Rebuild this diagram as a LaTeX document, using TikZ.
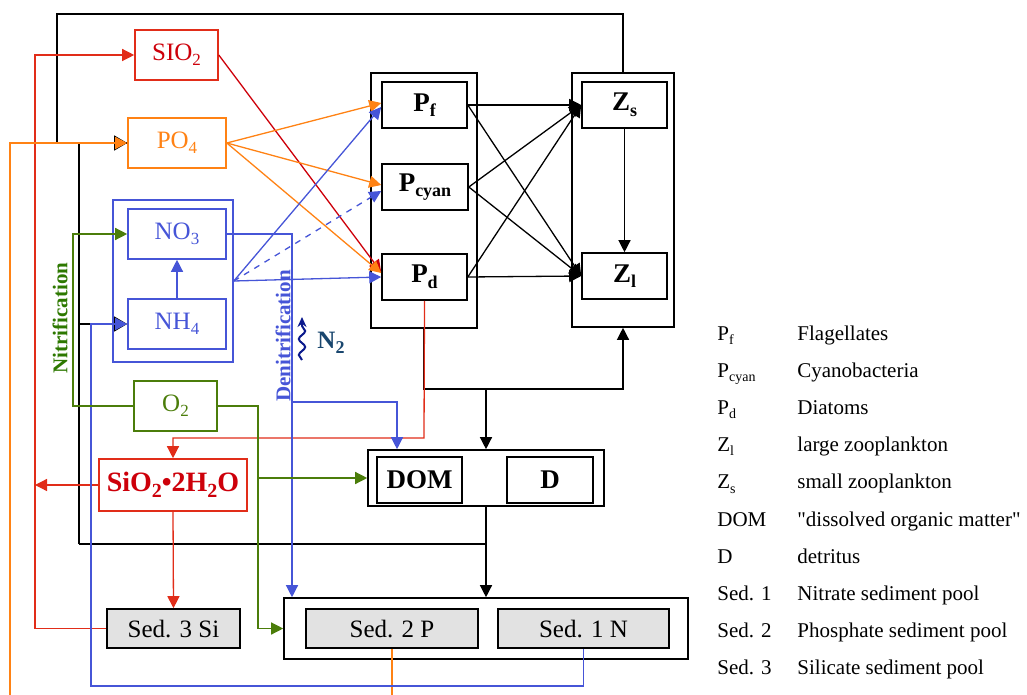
\documentclass[tikz,border=0pt]{standalone}
\usepackage{fontspec}
\setmainfont{Liberation Serif}
\usetikzlibrary{arrows.meta, positioning, calc, decorations.pathmorphing}
\definecolor{silred}{RGB}{225,45,25}
\definecolor{sidark}{RGB}{205,0,10}
\definecolor{phosorange}{RGB}{255,130,20}
\definecolor{nitblue}{RGB}{70,85,215}
\definecolor{oxgreen}{RGB}{75,125,10}
\definecolor{nitgreen}{RGB}{45,120,0}
\definecolor{ntwoteal}{RGB}{25,70,110}
\definecolor{ntwonavy}{RGB}{10,25,140}
\definecolor{sedgray}{RGB}{226,226,226}
\newcommand{\lowidx}[2][9]{\raisebox{-0.45ex}{\fontsize{#1}{#1}\selectfont #2}}
\tikzset{
  frame/.style={rectangle, draw=black, line width=0.8pt, inner sep=0pt},
  plank/.style={rectangle, draw=black, line width=0.8pt, inner sep=0pt,
    minimum width=42.5pt, minimum height=23pt,
    font=\fontsize{13.5}{15}\selectfont\bfseries},
  nutbox/.style={rectangle, line width=0.8pt, inner sep=0pt,
    minimum width=49pt, minimum height=25pt,
    font=\fontsize{12.5}{14}\selectfont},
  redbox/.style={nutbox, draw=silred, text=sidark},
  orangebox/.style={nutbox, draw=phosorange, text=phosorange},
  bluebox/.style={nutbox, draw=nitblue, text=nitblue},
  greenbox/.style={nutbox, draw=oxgreen, text=oxgreen},
  graybox/.style={rectangle, draw=black, fill=sedgray, line width=0.8pt,
    inner sep=0pt, minimum height=19.5pt, font=\fontsize{12.5}{14}\selectfont},
  legkey/.style={inner sep=0pt, font=\fontsize{10.5}{12}\selectfont},
  sidelabel/.style={rotate=90, inner sep=0pt, font=\fontsize{10.5}{12}\selectfont\bfseries},
  line/.style={line width=0.65pt, color=black},
  arrow/.style={-{Triangle[length=6pt, width=6pt]}, line width=0.65pt, color=black},
  bigarrow/.style={-{Triangle[length=6.5pt, width=7.5pt]}, line width=0.65pt, color=black},
  redarrow/.style={-{Triangle[length=6pt, width=6pt]}, line width=0.65pt, color=silred},
  orangearrow/.style={-{Triangle[length=6pt, width=6pt]}, line width=0.65pt, color=phosorange},
  bluearrow/.style={-{Triangle[length=6pt, width=6pt]}, line width=0.65pt, color=nitblue},
  greenarrow/.style={-{Triangle[length=6pt, width=6pt]}, line width=0.65pt, color=oxgreen},
  squiggle/.style={decorate, decoration={snake, amplitude=1.6pt, segment length=8pt, post length=4pt},
    -{Stealth[length=5pt, width=4.5pt]}, line width=1pt, color=ntwonavy}
}
\begin{document}
\begin{tikzpicture}[x=0.5pt, y=-0.5pt]
  \useasboundingbox (0,0) rectangle (1027,695);

  % Nutrients
  \node[redbox, minimum width=41.5pt] (sio) at (176.5,55) {SIO\lowidx[8.5]{2}};
  \node[orangebox] (po) at (177,143) {PO\lowidx[8.5]{4}};
  \node[frame, draw=nitblue, minimum width=60pt, minimum height=81pt] (nbox) at (173,281) {};
  \node[bluebox] (no) at (177,234) {NO\lowidx[8.5]{3}};
  \node[bluebox] (nh) at (177,324) {NH\lowidx[8.5]{4}};
  \node[greenbox, minimum width=41.5pt] (oxy) at (175.5,406) {O\lowidx[8.5]{2}};
  \node[redbox, minimum width=74pt, minimum height=26pt,
    font=\fontsize{14}{16}\selectfont\bfseries] (sih) at (173,485) {SiO\lowidx[10]{2}•2H\lowidx[10]{2}O};

  % Phyto- and zooplankton
  \node[frame, minimum width=53pt, minimum height=127.5pt] (pbox) at (424,200.5) {};
  \node[plank] (pf) at (424.5,105) {P\lowidx{f}};
  \node[plank, minimum width=43pt] (pc) at (425,187) {P\lowidx{cyan}};
  \node[plank] (pd) at (424.5,277) {P\lowidx{d}};
  \node[frame, minimum width=51pt, minimum height=127pt] (zbox) at (623,200) {};
  \node[plank] (zs) at (624.5,105) {Z\lowidx{s}};
  \node[plank] (zl) at (624.5,276) {Z\lowidx{l}};

  % Detritus
  \node[frame, minimum width=118pt, minimum height=28pt] (dbox) at (486,478) {};
  \node[plank] (dom) at (419.5,480) {DOM};
  \node[plank, minimum width=43pt] (det) at (550,480) {D};

  % Sediments
  \node[frame, minimum width=202pt, minimum height=30.5pt] (sedbox) at (486,628.5) {};
  \node[graybox, minimum width=66.5pt] (sed3) at (173.5,628.5) {Sed. 3 Si};
  \node[graybox, minimum width=86pt] (sed2) at (392,628.5) {Sed. 2 P};
  \node[graybox, minimum width=85.5pt] (sed1) at (583.5,628.5) {Sed. 1 N};

  % Corners of the routed lines
  \coordinate (tl) at (57,14);
  \coordinate (kl) at (79,544);
  \coordinate (pj) at (424,389);
  \coordinate (ob) at (10,702);
  \coordinate (rx) at (35,0);
  \coordinate (rd) at (424,438);
  \coordinate (bx) at (292,0);
  \coordinate (bj) at (292,402);
  \coordinate (bd) at (397,0);
  \coordinate (bb) at (91,686);
  \coordinate (gx) at (73,0);
  \coordinate (gr) at (258,0);

  % Black fluxes
  \draw[line] (zbox.north) |- (tl) |- (po.west);
  \draw[line] (dbox.south |- kl) -- (kl);
  \draw[bigarrow] (kl) |- (po.west);
  \draw[bigarrow] (kl |- nh.west) -- (nh.west);
  \foreach \a in {pf,pc,pd}
    \foreach \b in {zs,zl}
      \draw[arrow] (\a.east) -- (\b.west);
  \draw[arrow] (zs.south) -- (zl.north);
  \draw[arrow] (pbox.south) -- (pj) -| (zbox.south);
  \draw[arrow] (dbox.north |- pj) -- (dbox.north);
  \draw[arrow] (dbox.south) -- (sedbox.north);

  % Silicate
  \draw[redarrow] (sed3.west) -| (rx |- sio.west) -- (sio.west);
  \draw[redarrow] (sih.west) -- (rx |- sih.west);
  \draw[redarrow] (sih.south) -- (sed3.north);
  \draw[redarrow] (pd.south) -- (rd) -| (sih.north);
  \draw[redarrow, color=sidark] (sio.east) -- ([yshift=2.5pt]pd.west);

  % Phosphate
  \draw[orangearrow] (sed2.south) |- (ob) |- (po.west);
  \draw[orangearrow] (po.east) -- ([yshift=1pt]pf.west);
  \draw[orangearrow] (po.east) -- ([yshift=1pt]pc.west);
  \draw[orangearrow] (po.east) -- ([yshift=2pt]pd.west);

  % Nitrogen
  \draw[bluearrow] (nh.north) -- (no.south);
  \draw[bluearrow] (nbox.east) -- ([yshift=-1pt]pf.west);
  \draw[bluearrow, dashed] (nbox.east) -- ([yshift=-2pt]pc.west);
  \draw[bluearrow] (nbox.east) -- (pd.west);
  \draw[bluearrow] (no.east) -| (bx |- sedbox.north);
  \draw[bluearrow] (bj) -| (bd |- dbox.north);
  \draw[bluearrow] (sed1.south) |- (bb) |- (nh.west);

  % Oxygen
  \draw[greenarrow] (oxy.west) -| (gx |- no.west) -- (no.west);
  \draw[greenarrow] (oxy.east) -| (gr |- sedbox.west) -- (sedbox.west);
  \draw[greenarrow] (gr |- dbox.west) -- (dbox.west);

  % Process labels
  \node[sidelabel, text=nitgreen] (nitlbl) at (60,318) {Nitrification};
  \node[sidelabel, text=nitblue] (denlbl) at (283,336) {Denitrification};
  \coordinate (sqa) at (302,360);
  \coordinate (sqb) at (302,317);
  \draw[squiggle] (sqa) -- (sqb);
  \node[inner sep=0pt, text=ntwoteal, font=\fontsize{12.5}{14}\selectfont\bfseries]
    (ntwo) at (331,343) {N\lowidx[9]{2}};

  % Legend
  \foreach \k/\d [count=\i from 0] in {P\lowidx[7]{f}/Flagellates,
      P\lowidx[7]{cyan}/Cyanobacteria, P\lowidx[7]{d}/Diatoms,
      Z\lowidx[7]{l}/large zooplankton, Z\lowidx[7]{s}/small zooplankton,
      DOM/\textquotedbl dissolved organic matter\textquotedbl, D/detritus,
      Sed. 1/Nitrate sediment pool, Sed. 2/Phosphate sediment pool,
      Sed. 3/Silicate sediment pool}
  {
    \node[legkey, anchor=base west] (key\i) at (717,{340+37.2*\i}) {\k};
    \node[legkey, anchor=base west] (desc\i) at (797,{340+37.2*\i}) {\d};
  }
\end{tikzpicture}
\end{document}
